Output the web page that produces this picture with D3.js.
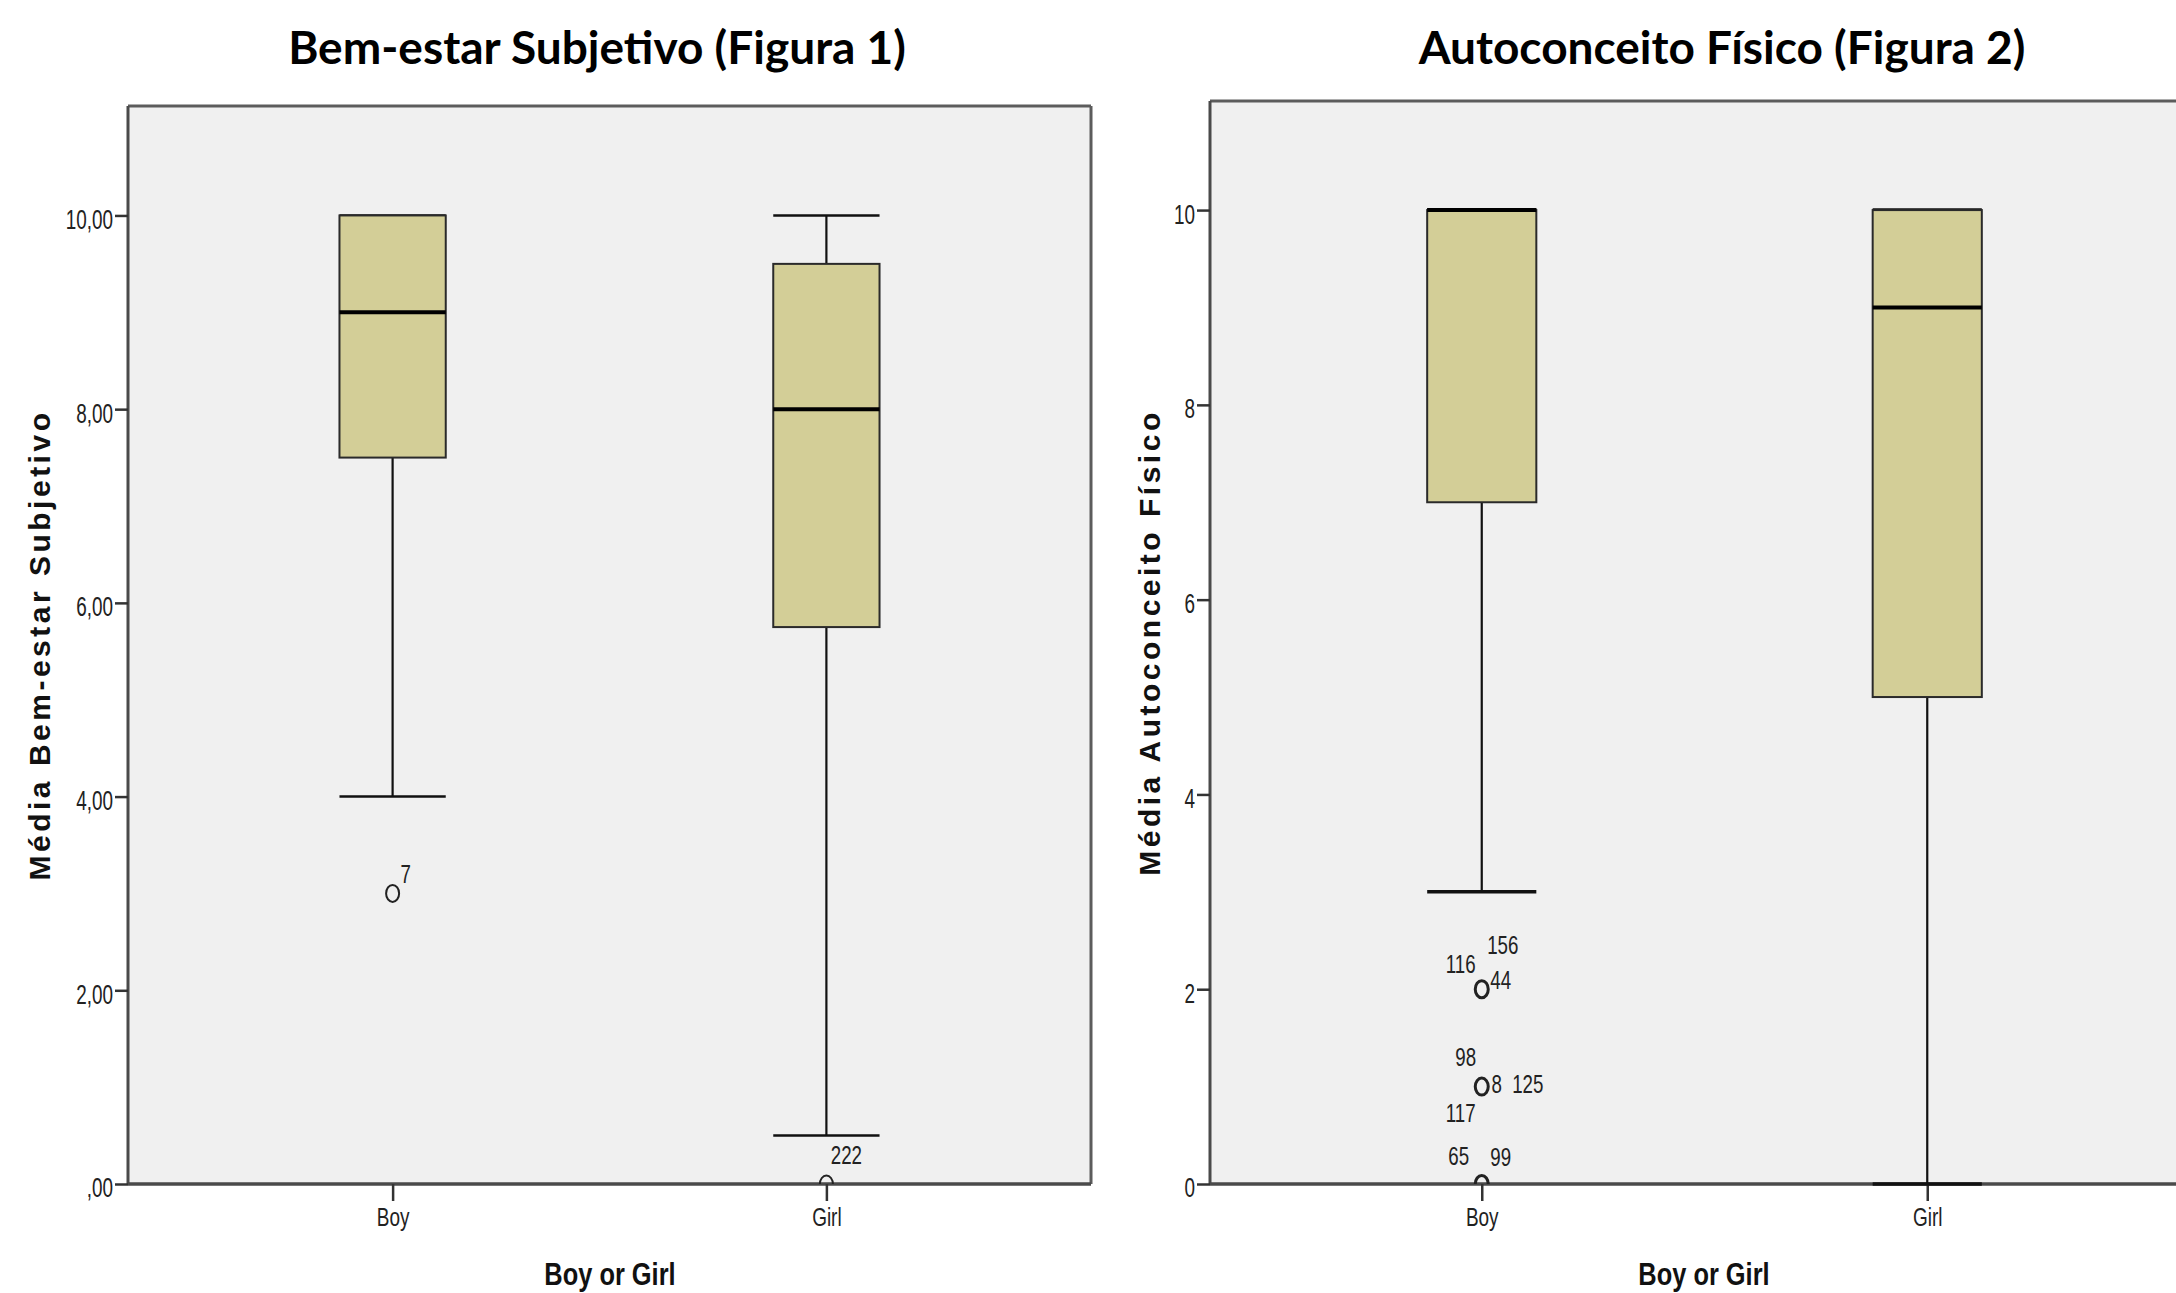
<!DOCTYPE html>
<html>
<head>
<meta charset="utf-8">
<script src="https://cdn.jsdelivr.net/npm/d3@7"></script>
<style>
  html, body { margin: 0; padding: 0; background: #fff; }
  svg { display: block; }
</style>
</head>
<body>
<svg id="chart" width="2176" height="1293"></svg>
<script>
// ---------------- DATA ----------------
const categories = ["Boy", "Girl"];
const yTicks = [0, 2, 4, 6, 8, 10];

// Figura 1 - Bem-estar Subjetivo
const bemTitle = "Bem-estar Subjetivo (Figura 1)";
const bemYLabel = "Média Bem-estar Subjetivo";
const bemTickLabels = [",00", "2,00", "4,00", "6,00", "8,00", "10,00"];
const bemWhiskerLow = [4, 0.5];
const bemQ1 = [7.5, 5.75];
const bemMedian = [9, 8];
const bemQ3 = [10, 9.5];
const bemWhiskerHigh = [10, 10];
const bemOutliers = [
  { cat: "Boy", value: 3, ids: ["7"] },
  { cat: "Girl", value: 0, ids: ["222"] }
];

// Figura 2 - Autoconceito Físico
const autoTitle = "Autoconceito Físico (Figura 2)";
const autoYLabel = "Média Autoconceito Físico";
const autoTickLabels = ["0", "2", "4", "6", "8", "10"];
const autoWhiskerLow = [3, 0];
const autoQ1 = [7, 5];
const autoMedian = [10, 9];
const autoQ3 = [10, 10];
const autoWhiskerHigh = [10, 10];
const autoOutliers = [
  { cat: "Boy", value: 2, ids: ["116", "156", "44"] },
  { cat: "Boy", value: 1, ids: ["98", "8", "125", "117"] },
  { cat: "Boy", value: 0, ids: ["65", "99"] }
];

const xAxisLabel = "Boy or Girl";

// ---------------- LAYOUT (positions / styles) ----------------
const labelOffsets = {
  "7": [13, -20], "222": [20, -29],
  "116": [-21, -26], "156": [21, -45], "44": [19, -10],
  "98": [-16, -30], "8": [15, -3], "125": [46, -3], "117": [-21, 26],
  "65": [-23, -28], "99": [19, -27]
};

const panelsLayout = [
  { left: 128, right: 1091, top: 106, bottom: 1184, yMax: 11.13, titleX: 597, yLabelX: 39, xLabelX: 610, rightBorder: true, capW: 2.5, circleW: 2 },
  { left: 1210, right: 2199, top: 101, bottom: 1184, yMax: 11.12, titleX: 1722, yLabelX: 1149, xLabelX: 1704, rightBorder: false, capW: 3.5, circleW: 3 }
];

const BOX_FILL = "#D3CE97";
const PLOT_BG = "#F0F0F0";
const SANS = "'Liberation Sans', Arial, sans-serif";

const svg = d3.select("#chart");

// horizontally condense text (emulates a narrow face)
function squeeze(sel, k) {
  sel.each(function () {
    const t = d3.select(this);
    const x = +(t.attr("x") || 0);
    t.attr("x", x / k).attr("transform", `scale(${k},1)`);
  });
}

function drawPanel(idx, cfg) {
  const L = panelsLayout[idx];
  const g = svg.append("g");

  const y = d3.scaleLinear().domain([0, L.yMax]).range([L.bottom, L.top]);
  const x = d3.scalePoint().domain(categories).range([L.left, L.right]).padding(0.61);
  const step = x.step();
  const boxW = step * 0.245;
  const capHalf = boxW * 0.25;

  g.append("rect").attr("x", L.left).attr("y", L.top)
    .attr("width", L.right - L.left).attr("height", L.bottom - L.top)
    .attr("fill", PLOT_BG);

  const clipId = "clip" + idx;
  svg.append("defs").append("clipPath").attr("id", clipId)
    .append("rect").attr("x", L.left).attr("y", L.top)
    .attr("width", L.right - L.left).attr("height", L.bottom - L.top);

  const frame = g.append("g").attr("stroke", "#5c5c5c").attr("stroke-width", 3).attr("fill", "none");
  frame.append("line").attr("x1", L.left).attr("x2", L.right).attr("y1", L.top).attr("y2", L.top);
  if (L.rightBorder) frame.append("line").attr("x1", L.right).attr("x2", L.right).attr("y1", L.top).attr("y2", L.bottom);

  // y axis
  const yAxis = d3.axisLeft(y).tickValues(yTicks).tickSize(13).tickPadding(2)
    .tickFormat((d, i) => cfg.tickLabels[i]);
  const ya = g.append("g").attr("transform", `translate(${L.left},0)`).call(yAxis);
  ya.select(".domain").attr("stroke", "#4a4a4a").attr("stroke-width", 3)
    .attr("d", `M0,${L.top}V${L.bottom}`);
  ya.selectAll(".tick line").attr("stroke", "#333").attr("stroke-width", 2.5);
  ya.selectAll(".tick text").attr("font-family", SANS).attr("font-size", 27)
    .attr("fill", "#222").attr("dy", "0.48em");
  squeeze(ya.selectAll(".tick text"), 0.7);

  // x axis
  const xAxis = d3.axisBottom(x).tickSize(17).tickPadding(7);
  const xa = g.append("g").attr("transform", `translate(0,${L.bottom})`).call(xAxis);
  xa.select(".domain").attr("stroke", "#4a4a4a").attr("stroke-width", 3.5)
    .attr("d", `M${L.left},0H${L.right}`);
  xa.selectAll(".tick line").attr("stroke", "#333").attr("stroke-width", 2.5);
  xa.selectAll(".tick text").attr("font-family", SANS).attr("font-size", 25).attr("fill", "#222");
  squeeze(xa.selectAll(".tick text"), 0.76);

  // boxes
  categories.forEach((c, i) => {
    const cx = x(c);
    const bg = g.append("g");
    bg.append("line").attr("x1", cx).attr("x2", cx)
      .attr("y1", y(cfg.q1[i])).attr("y2", y(cfg.wLow[i]))
      .attr("stroke", "#111").attr("stroke-width", 2.2);
    bg.append("line").attr("x1", cx).attr("x2", cx)
      .attr("y1", y(cfg.q3[i])).attr("y2", y(cfg.wHigh[i]))
      .attr("stroke", "#111").attr("stroke-width", 2.2);
    [cfg.wLow[i], cfg.wHigh[i]].forEach(v => {
      bg.append("line").attr("x1", cx - 2 * capHalf).attr("x2", cx + 2 * capHalf)
        .attr("y1", y(v)).attr("y2", y(v))
        .attr("stroke", "#111").attr("stroke-width", L.capW);
    });
    bg.append("rect").attr("x", cx - boxW / 2).attr("y", y(cfg.q3[i]))
      .attr("width", boxW).attr("height", y(cfg.q1[i]) - y(cfg.q3[i]))
      .attr("fill", BOX_FILL).attr("stroke", "#2a2a2a").attr("stroke-width", 2);
    bg.append("line").attr("x1", cx - boxW / 2).attr("x2", cx + boxW / 2)
      .attr("y1", y(cfg.median[i])).attr("y2", y(cfg.median[i]))
      .attr("stroke", "#000").attr("stroke-width", 4);
  });

  // outliers
  const og = g.append("g");
  cfg.outliers.forEach(o => {
    const cx = x(o.cat), cy = y(o.value);
    og.append("ellipse").attr("clip-path", `url(#${clipId})`)
      .attr("cx", cx).attr("cy", cy).attr("rx", 6.5).attr("ry", 8.5)
      .attr("fill", "none").attr("stroke", "#222").attr("stroke-width", L.circleW);
    o.ids.forEach(id => {
      const off = labelOffsets[id] || [12, -20];
      const t = og.append("text").attr("x", cx + off[0]).attr("y", cy + off[1])
        .attr("dy", "0.36em").attr("text-anchor", "middle")
        .attr("font-family", SANS).attr("font-size", 26).attr("fill", "#222")
        .text(id);
      squeeze(t, 0.72);
    });
  });

  // titles
  svg.append("text").attr("x", L.titleX).attr("y", 48).attr("dy", "0.35em")
    .attr("text-anchor", "middle").attr("font-family", "Lato, 'Open Sans', sans-serif")
    .attr("font-weight", 700).attr("font-size", 46).attr("fill", "#000")
    .text(cfg.title);

  svg.append("text")
    .attr("transform", `translate(${L.yLabelX},${(L.top + L.bottom) / 2}) rotate(-90)`)
    .attr("dy", "0.35em").attr("text-anchor", "middle")
    .attr("font-family", SANS).attr("font-weight", 700)
    .attr("font-size", 30).attr("letter-spacing", 3.5).attr("fill", "#111")
    .text(cfg.yLabel);

  const xl = svg.append("text").attr("x", L.xLabelX).attr("y", 1274).attr("dy", "0.36em")
    .attr("text-anchor", "middle").attr("font-family", SANS).attr("font-weight", 700)
    .attr("font-size", 31).attr("fill", "#111")
    .text(xAxisLabel);
  squeeze(xl, 0.82);
}

drawPanel(0, {
  title: bemTitle, yLabel: bemYLabel, tickLabels: bemTickLabels,
  wLow: bemWhiskerLow, q1: bemQ1, median: bemMedian, q3: bemQ3, wHigh: bemWhiskerHigh,
  outliers: bemOutliers
});
drawPanel(1, {
  title: autoTitle, yLabel: autoYLabel, tickLabels: autoTickLabels,
  wLow: autoWhiskerLow, q1: autoQ1, median: autoMedian, q3: autoQ3, wHigh: autoWhiskerHigh,
  outliers: autoOutliers
});
</script>
</body>
</html>
